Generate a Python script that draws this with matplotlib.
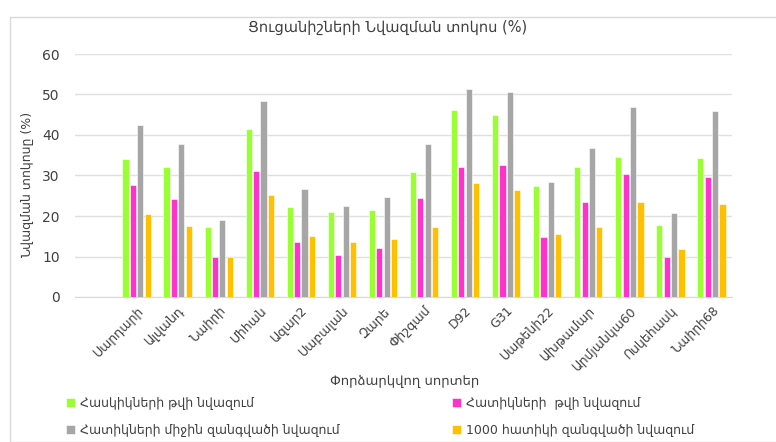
import matplotlib
matplotlib.use("Agg")
import matplotlib.pyplot as plt
import numpy as np
from matplotlib.patches import Rectangle

plt.rcParams['font.family'] = ['DejaVu Sans']

categories = ["Սարդարի", "Ալվանդ", "Նաիրի", "Միհան", "Ազար2", "Սաբալան", "Զարե", "Փիշգամ",
              "D92", "G31", "Սաթենի22", "Ախթամար", "Արմյանկա60", "Ոսկեհասկ", "Նաիրի68"]
spikes = [34.1, 32.2, 17.4, 41.6, 22.2, 21.0, 21.5, 30.8, 46.1, 44.9, 27.4, 32.1, 34.5, 17.7, 34.4]
grains = [27.6, 24.3, 9.9, 31.0, 13.6, 10.3, 12.0, 24.4, 32.2, 32.6, 14.8, 23.4, 30.4, 10.0, 29.7]
mean_mass = [42.5, 37.7, 18.9, 48.5, 26.7, 22.5, 24.8, 37.7, 51.4, 50.5, 28.3, 36.8, 46.9, 20.7, 46.0]
thousand = [20.6, 17.6, 9.8, 25.3, 15.0, 13.6, 14.4, 17.4, 28.2, 26.5, 15.6, 17.4, 23.5, 11.8, 22.9]

series_names = ["Հասկիկների թվի նվազում", "Հատիկների  թվի նվազում",
                "Հատիկների միջին զանգվածի նվազում", "1000 հատիկի զանգվածի նվազում"]
colors = ["#99FF33", "#FF33CC", "#A6A6A6", "#FFC000"]

fig = plt.figure(figsize=(7.76, 4.42), dpi=100)
fig.patches.append(Rectangle((10/776, 0), 1, 1 - 17/442, transform=fig.transFigure,
                             fill=False, edgecolor="#D9D9D9", linewidth=1))
ax = fig.add_axes([75/776, 1 - 297/442, (732 - 75)/776, (297 - 54)/442])

n = len(categories)
x = np.arange(n)
step = 0.18
w = 0.15
handles = []
for i, (vals, c, name) in enumerate(zip([spikes, grains, mean_mass, thousand], colors, series_names)):
    h = ax.bar(x + (i - 1.5) * step, vals, width=w, color=c, edgecolor="white",
               linewidth=0.4, label=name, zorder=3)
    handles.append(h)

ax.set_xlim(-1.5, n - 0.5)
ax.set_ylim(0, 60)
ax.set_yticks(range(0, 61, 10))
ax.yaxis.grid(True, color="#E0E0E0", linewidth=1, zorder=0)
for s in ax.spines.values():
    s.set_visible(False)
ax.spines['bottom'].set_visible(True)
ax.spines['bottom'].set_color("#D9D9D9")
ax.tick_params(axis='both', length=0, labelsize=10, colors="#404040")
ax.tick_params(axis='y', pad=11)
ax.set_xticks(x)
ax.set_xticklabels(categories, rotation=45, ha='right', rotation_mode='anchor',
                   fontsize=9, color="#404040")
ax.tick_params(axis='x', pad=5)

ax.set_ylabel("Նվազման տոկոսը (%)", fontsize=9, color="#404040")
ax.yaxis.set_label_coords(-0.063, 0.46)
fig.text(388/776, 1 - 27/442, "Ցուցանիշների Նվազման տոկոս (%)", ha='center', va='center',
         fontsize=10.5, color="#404040")
fig.text(405/776, 1 - 381/442, "Փորձարկվող սորտեր", ha='center', va='center',
         fontsize=9.5, color="#404040")

order = [0, 2, 1, 3]
leg = fig.legend(handles=[handles[i] for i in order], labels=[series_names[i] for i in order],
                 ncol=2, loc='lower left',
                 bbox_to_anchor=(55/776, -0.014), frameon=False, fontsize=9,
                 handlelength=0.7, handleheight=0.7, handletextpad=0.4,
                 columnspacing=9.0, labelspacing=1.15, labelcolor="#404040")

fig.savefig("out.png", dpi=100)
